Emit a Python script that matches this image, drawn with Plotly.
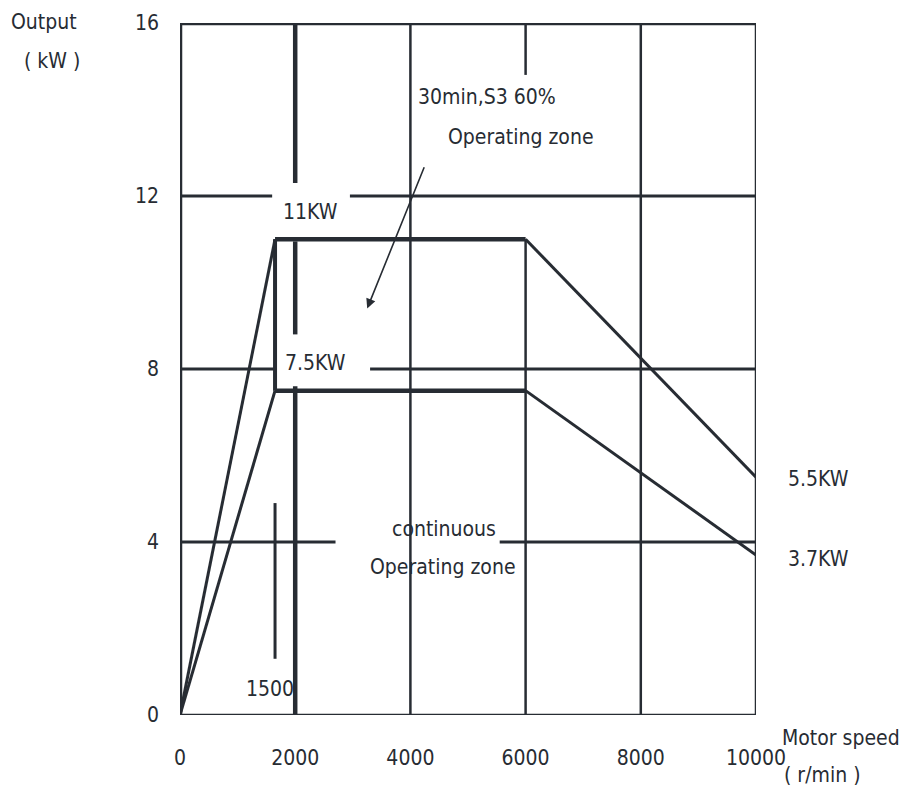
import plotly.graph_objects as go

# ---- data (speed in r/min, output in kW) ----
speed_pts = [0, 1650, 6000, 10000]
out_30min = [0, 11, 11, 5.5]      # 30min, S3 60% operating zone
out_cont = [0, 7.5, 7.5, 3.7]     # continuous operating zone

x_ticks = [0, 2000, 4000, 6000, 8000, 10000]
x_ticklabels = ["0", "2000", "4000", "6000", "8000", "10000"]
y_ticks = [0, 4, 8, 12, 16]
y_ticklabels = ["0", "4", "8", "12", "16"]

# grid segments (broken where labels sit)
h_grid = {12: [(0, 1600), (2950, 10000)],
          8: [(0, 1650), (3300, 10000)],
          4: [(0, 2700), (5550, 10000)]}
v_grid_thick = {2000: [(12.3, 16), (8.8, 10.95), (0, 7.6)]}
v_grid = {4000: [(0, 16)], 6000: [(0, 11), (14.8, 16)], 8000: [(0, 16)]}
marker_1500 = [(1.3, 4.9)]

INK = "#272c33"
FONT = "Liberation Sans Narrow, DejaVu Sans Condensed, Arial Narrow, sans-serif"

# page body has an 8px margin: compensate
OFF = 8
W, H = 913 - OFF, 794 - OFF
PL, PR, PT, PB = 180, 756, 23, 715  # target plot area in page pixels
XMAX, YMAX = 10000, 16

fig = go.Figure()

def seg_trace(xs, ys, w):
    fig.add_trace(go.Scatter(x=xs, y=ys, mode="lines", cliponaxis=False,
                             line=dict(color=INK, width=w), hoverinfo="skip",
                             showlegend=False))

# frame
seg_trace([0, 0], [0, 16], 4.5)
seg_trace([0, 10000], [16, 16], 4.5)
seg_trace([0, 10000], [0, 0], 2.5)
seg_trace([10000, 10000], [0, 16], 2.5)

for yv, segs in h_grid.items():
    xs, ys = [], []
    for a, b in segs:
        xs += [a, b, None]; ys += [yv, yv, None]
    seg_trace(xs, ys, 3)
for xv, segs in v_grid_thick.items():
    xs, ys = [], []
    for a, b in segs:
        xs += [xv, xv, None]; ys += [a, b, None]
    seg_trace(xs, ys, 4.5)
for xv, segs in v_grid.items():
    xs, ys = [], []
    for a, b in segs:
        xs += [xv, xv, None]; ys += [a, b, None]
    seg_trace(xs, ys, 2.5)
for a, b in marker_1500:
    seg_trace([speed_pts[1], speed_pts[1]], [a, b], 3)

# characteristic curves
for series in (out_30min, out_cont):
    seg_trace(speed_pts[0:2], series[0:2], 3)
    seg_trace(speed_pts[1:3], series[1:3], 4.5)
    seg_trace(speed_pts[2:4], series[2:4], 3)
seg_trace([speed_pts[1], speed_pts[1]], [out_cont[1], out_30min[1]], 4)

tf = dict(family=FONT, size=21, color=INK)
ann = [
    ("11KW", 2270, 11.62),
    ("7.5KW", 2360, 8.15),
    ("30min,S3 60%", 5330, 14.28),
    ("Operating zone", 5920, 13.36),
    ("continuous", 4580, 4.31),
    ("Operating zone", 4570, 3.43),
    ("1500", 1560, 0.6),
]
for t, x, y in ann:
    fig.add_annotation(x=x, y=y, xref="x", yref="y", text=t, showarrow=False,
                       font=tf, xanchor="center", yanchor="middle")

# end-point labels right of the plot area (paper coords)
for t, x, y in [("5.5KW", 11090, out_30min[-1] - 0.05),
                ("3.7KW", 11090, out_cont[-1] - 0.1)]:
    fig.add_annotation(x=x / XMAX, y=y / YMAX, xref="paper", yref="paper",
                       text=t, showarrow=False, font=tf,
                       xanchor="center", yanchor="middle")

# arrow from label to zone
fig.add_annotation(x=3250, y=9.4, ax=4250, ay=12.7, axref="x", ayref="y",
                   xref="x", yref="y", text="", showarrow=True,
                   arrowhead=2, arrowsize=1.2, arrowwidth=1.6, arrowcolor=INK)

# axis titles (positions in page pixels -> paper coords of plot area)
for t, px, py in [("Output", 44, 22), ("( kW )", 52, 61),
                  ("Motor speed", 841, 738), ("( r/min )", 822, 775)]:
    fig.add_annotation(x=(px - PL) / (PR - PL), y=(PB - py) / (PB - PT),
                       xref="paper", yref="paper",
                       text=t, showarrow=False, font=tf,
                       xanchor="center", yanchor="middle")

fig.update_layout(
    width=W, height=H,
    margin=dict(l=PL - OFF, r=913 - PR, t=PT - OFF, b=794 - PB),
    paper_bgcolor="white", plot_bgcolor="white",
    xaxis=dict(range=[0, XMAX], tickvals=x_ticks, ticktext=x_ticklabels,
               showgrid=False, zeroline=False, showline=False,
               tickfont=tf, ticks="", ticklabelstandoff=28, fixedrange=True),
    yaxis=dict(range=[0, YMAX], tickvals=y_ticks, ticktext=y_ticklabels,
               showgrid=False, zeroline=False, showline=False,
               tickfont=tf, ticks="", ticklabelstandoff=20, fixedrange=True),
)
fig.update_xaxes(automargin=False)
fig.update_yaxes(automargin=False)

fig.write_html("out.html")
